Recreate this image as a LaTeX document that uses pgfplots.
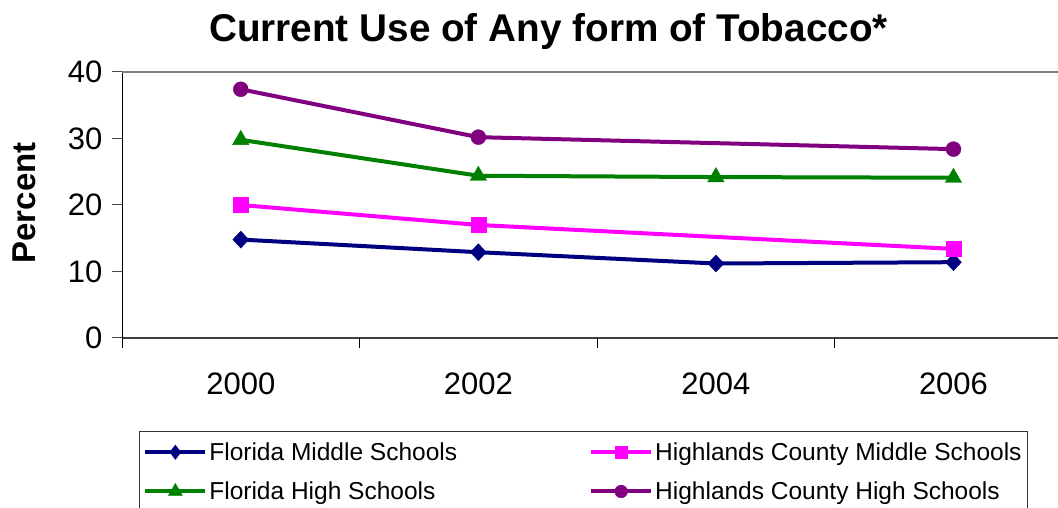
\documentclass[border=0pt]{standalone}
\usepackage{fontspec}
\setmainfont{Liberation Sans}
\usepackage{pgfplots}
\pgfplotsset{compat=1.18}
\definecolor{cnavy}{RGB}{0,0,128}
\definecolor{cmag}{RGB}{255,0,255}
\definecolor{cgreen}{RGB}{0,128,0}
\definecolor{cpurple}{RGB}{128,0,128}
\begin{document}
\begin{tikzpicture}[x=1pt,y=1pt]
\useasboundingbox (0,0) rectangle (1058,508);
\node[anchor=base, font=\fontsize{38.7}{44}\selectfont\bfseries] at (548.5,466) {Current Use of Any form of Tobacco*};
\node[rotate=90, font=\fontsize{33}{38}\selectfont\bfseries] at (24,305) {Percent};
\begin{axis}[
  at={(122pt,170pt)}, anchor=south west,
  scale only axis, width=936pt, height=266pt,
  xmin=-0.5, xmax=3.44, ymin=0, ymax=40,
  axis x line*=bottom, axis y line*=left,
  x axis line style={draw=black!75, line width=1.4pt},
  y axis line style={draw=black, line width=1pt},
  tick align=outside, major tick length=10pt,
  xtick={0,1,2,3}, xticklabels={2000,2002,2004,2006},
  x tick style={draw=none},
  extra x ticks={-0.5,0.5,1.5,2.5}, extra x tick labels={},
  extra x tick style={x tick style={draw=black, line width=1pt}},
  ytick={0,10,20,30,40},
  y tick style={draw=black!70, line width=1pt},
  ticklabel style={font=\fontsize{31}{36}\selectfont},
  /pgf/number format/assume math mode=true,
  xticklabel style={yshift=-21pt},
  yticklabel style={xshift=-6pt},
  clip=false,
  legend columns=2,
  legend cell align=left,
  legend style={at={(0.018,-0.35)}, anchor=north west, draw=black!80, line width=1pt,
    font=\fontsize{24.5}{28}\selectfont, inner xsep=4pt, inner ysep=9pt,
    /tikz/row sep=16pt,
    /tikz/column 2/.style={column sep=130pt}},
  legend image code/.code={\draw[mark repeat=2,mark phase=2,#1] plot coordinates {(0pt,0pt) (30pt,0pt) (60pt,0pt)};},
  legend image post style={mark options={line width=0.4pt, scale=0.85}},
]
\draw[draw=black!50, line width=1.4pt] (rel axis cs:0,1) -- (rel axis cs:1,1);
\addplot[color=cnavy, line width=4pt, mark=diamond*, mark size=8.5pt, mark options={line width=0.4pt, xscale=1.25}]
  coordinates {(0,14.8) (1,12.9) (2,11.2) (3,11.4)};
\addlegendentry{Florida Middle Schools}
\addplot[color=cmag, line width=4pt, mark=square*, mark size=7.5pt, mark options={line width=0.4pt}]
  coordinates {(0,20.0) (1,17.0) (3,13.4)};
\addlegendentry{Highlands County Middle Schools}
\addplot[color=cgreen, line width=4pt, mark=triangle*, mark size=9.5pt, mark options={line width=0.4pt}]
  coordinates {(0,29.8) (1,24.4) (2,24.2) (3,24.1)};
\addlegendentry{Florida High Schools}
\addplot[color=cpurple, line width=4pt, mark=*, mark size=7.5pt, mark options={line width=0.4pt}]
  coordinates {(0,37.4) (1,30.2) (3,28.4)};
\addlegendentry{Highlands County High Schools}
\end{axis}
\end{tikzpicture}
\end{document}
